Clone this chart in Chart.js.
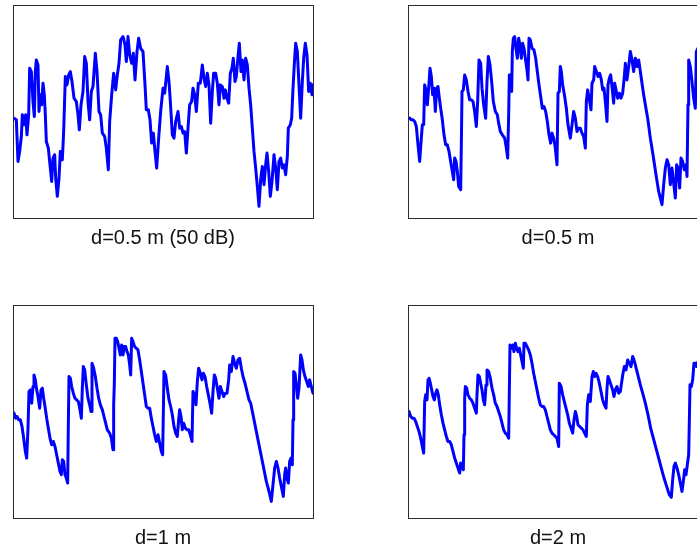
<!DOCTYPE html>
<html>
<head>
<meta charset="utf-8">
<script src="https://cdn.jsdelivr.net/npm/chart.js@4.4.1/dist/chart.umd.min.js"></script>
<style>
  html, body { margin:0; padding:0; background:#fff; width:697px; height:548px; overflow:hidden; position:relative; }
  canvas { position:absolute; }
</style>
</head>
<body>
<canvas id="c1" width="304" height="250" style="left:12px;top:4px"></canvas>
<canvas id="c2" width="304" height="250" style="left:407px;top:4px"></canvas>
<canvas id="c3" width="304" height="250" style="left:12px;top:304px"></canvas>
<canvas id="c4" width="304" height="250" style="left:407px;top:304px"></canvas>
<script>
// Captions of the four panels
const captions = ['d=0.5 m (50 dB)', 'd=0.5 m', 'd=1 m', 'd=2 m'];

// Axis ranges (arbitrary sample index / level units)
const xRange = [0, 90];
const yRange = [0, 64];

// Panel 1: d=0.5 m (50 dB)  [sample, level]
const series1 = [[0.3,30],[1,29.5],[1.5,17],[2,20],[2.5,24.5],[2.8,31],[3.3,28],[3.8,31],[4.2,25],[4.7,31],
[5,45],[5.5,44],[6,35],[6.4,30.5],[6.7,44],[7,47.5],[7.5,46],[7.8,32],[8.2,37],[8.6,34],[9,40.5],[9.4,37],[9.7,31],
[10,23],[10.6,21],[11.1,16],[11.6,11],[12,18],[12.5,19],[12.8,12],[13.3,6.5],[13.8,12],[14.2,20],[14.8,17.5],
[15.2,26],[15.7,42.5],[16.2,40],[16.7,43],[17.2,44],[17.7,41],[18.3,36],[19,35],[19.5,31],[19.9,26.5],[20.4,34],
[21,38],[21.5,48.5],[22,46.5],[22.5,35],[23,29.5],[23.5,38],[24,39.5],[24.7,49.5],[25.2,44],[25.8,32],[26.3,31],
[26.8,25.5],[27.5,24.5],[28,21],[28.6,14.5],[29,29],[29.6,37],[30.2,43.5],[30.8,38.5],[31.3,43],[31.8,46.5],
[32.3,53.5],[33,54.5],[33.6,52],[34,47],[34.5,54.5],[35,49],[35.6,46.5],[36.1,49.5],[36.6,41.5],[37.2,50],
[37.7,54],[38.3,51],[39,50],[39.6,40],[40,32.5],[40.6,32.5],[41.1,29.5],[41.6,22.5],[42.1,25.5],[42.6,20],
[43.1,15],[43.7,24],[44.3,32],[45,39],[45.5,37.5],[46.3,45.5],[46.8,41],[47.2,35],[47.8,25],[48.3,24],[48.8,29],
[49.5,32],[50,27],[50.5,27.5],[51,25.5],[51.5,26],[52,19.5],[52.5,27],[53,34],[53.6,35],[54,39],[54.5,37],
[55,32],[55.6,40.5],[56.2,40.5],[56.8,46],[57.3,42],[57.8,39.5],[58.3,43.5],[58.8,40],[59.3,28.5],[59.8,38],
[60.2,43.5],[60.8,43.5],[61.3,40.5],[61.8,34],[62.2,40],[62.8,39.5],[63.3,36],[63.7,38.5],[64.2,36],[64.7,34.5],
[65.2,43.5],[65.7,45],[66.1,48],[66.6,41],[67,42.5],[67.5,48.5],[67.9,52.5],[68.4,44],[68.8,47.5],[69.3,41.5],
[69.8,48],[70.3,46],[70.8,39],[71.3,34],[71.8,27],[72.3,20],[72.8,15],[73.3,9.5],[73.8,3.5],[74.3,11.5],
[74.8,15.5],[75.3,10],[75.8,16],[76.2,19.5],[76.7,14],[77.2,6.5],[77.7,11],[78.3,19],[78.8,15],[79.3,8.5],
[79.8,17],[80.3,18],[80.8,15],[81.3,16],[81.8,13],[82.3,18.5],[82.6,27],[83.2,28],[83.6,30],[84,39],[84.5,48],
[84.8,52.5],[85.3,50],[85.8,40],[86.3,30],[86.8,41],[87.2,48],[87.7,52.5],[88.2,49],[88.7,38],[89.2,40.5],
[89.7,37],[90,40]];

// Panel 2: d=0.5 m
const series2 = [[0.5,30],[1,29.5],[1.5,29.5],[2,29],[2.5,27.5],[3,22],[3.5,17],[4,24],[4.3,28],[4.7,28],
[5,40],[5.4,38.5],[5.8,34],[6.2,39],[6.6,45],[7,42.5],[7.4,37],[7.8,39],[8.2,32],[8.6,39],[9,39.5],[9.4,36],
[9.8,33],[10.3,29.5],[10.8,25],[11.3,22],[11.8,22],[12.3,20],[12.8,17],[13.3,14],[13.7,11.5],[14,18],[14.4,17],
[14.8,14],[15.2,9.5],[15.8,8.5],[16,22],[16.2,38],[16.6,38.5],[17,43],[17.5,41.5],[18,38],[18.5,35.5],[19,35.5],
[19.5,35],[20,32],[20.5,27.5],[20.9,35],[21.3,47.5],[21.8,46.5],[22.2,39],[22.7,34],[23.3,30],[23.7,41],
[24.1,48.5],[24.6,46],[25.1,41],[25.6,35],[26.2,32],[26.8,31],[27.2,28.5],[27.7,26],[28.3,25],[29,24],[29.5,21],
[29.9,18],[30.2,31],[30.4,43],[30.8,43],[31.1,38],[31.3,50],[31.6,54],[32,54.5],[32.4,51],[32.8,48],[33.2,54],
[33.6,52],[34,48],[34.4,52.5],[34.8,51],[35.2,48],[35.7,44.5],[36,41.5],[36.3,54],[36.7,53.5],[37.2,51],
[37.8,50.5],[38.3,48],[38.8,44],[39.3,40],[39.8,36.5],[40.3,33],[40.8,33.5],[41.3,32],[41.8,29],[42.3,25],
[42.8,22.5],[43.2,25.5],[43.7,24],[44.2,21],[44.7,16],[45,37.5],[45.4,38],[45.7,45.5],[46,44],[46.4,40],
[47,36.5],[47.5,33],[48,28],[48.7,24],[49.2,28],[49.7,32],[50.2,30],[50.7,26],[51.2,27],[51.7,27],[52.2,25.5],
[52.7,24.5],[53.2,21],[53.5,35],[53.9,38.5],[54.4,35.5],[54.9,32.5],[55.2,40.5],[55.7,41.5],[56,45.5],[56.5,44],
[57,42.5],[57.5,43.5],[58,41.5],[58.4,38.5],[58.8,39],[59.2,35],[59.7,29],[60,40],[60.4,42],[60.8,43],[61.2,39.5],
[61.7,34.5],[62,40.5],[62.4,38.5],[62.9,36],[63.4,37.5],[63.9,36],[64.4,37.5],[64.9,42.5],[65.2,46.5],[65.7,41.5],
[66.2,45.5],[66.7,50],[67.2,47.5],[67.7,44],[68.2,48],[68.7,45.5],[69.2,47.5],[69.7,44],[70.2,40.5],[70.7,37],
[71.2,34],[71.9,30],[72.7,24],[73.5,19],[74.4,13],[75.2,8],[76.2,4],[76.7,10],[77.2,15],[77.7,17.5],[78.2,16],
[78.7,10],[79.2,15],[79.7,10.5],[80.2,6],[80.6,16],[81,15],[81.5,9],[81.9,18],[82.4,17],[82.9,14.5],[83.4,16],
[83.7,12.5],[84,34],[84.2,47.5],[84.7,45.5],[85.2,41],[85.7,36],[86.2,33],[86.5,50],[87,51],[87.5,44],[88,38],
[88.5,46],[89,44],[89.5,38],[90,40]];

// Panel 3: d=1 m
const series3 = [[0.3,31.5],[0.8,30],[1.2,30.5],[1.7,29.5],[2.2,29.5],[2.7,27.5],[3.2,24],[3.7,20],[4.1,18],
[4.5,27],[4.8,38],[5.2,38.5],[5.6,34.5],[6,39.5],[6.3,43],[6.7,41.5],[7.1,38.5],[7.5,36.5],[8,33],[8.4,38.5],
[8.8,39],[9.2,36],[9.6,33.5],[10.1,30],[10.6,27],[11.1,24],[11.6,22],[12.1,23],[12.6,21.5],[13.1,19],[13.6,16.5],
[14.1,14],[14.5,13],[14.8,17.5],[15.2,17],[15.6,13],[16,12],[16.4,10.5],[16.6,28],[16.8,42.5],[17.2,42],
[17.6,39.5],[18.1,37.5],[18.6,36],[19.1,35.5],[19.6,35],[20.1,32.5],[20.5,30],[20.8,39],[21.1,45.5],[21.5,44.5],
[22,40],[22.5,36],[23,34],[23.4,32],[23.7,46.5],[24.2,45],[24.7,42.5],[25.2,39],[25.7,36],[26.2,34],[26.8,32.5],
[27.3,30.5],[27.8,28.5],[28.3,26.5],[29,25.5],[29.5,24],[30,20.5],[30.2,34],[30.4,40.5],[30.6,54],[31,54],
[31.4,53],[31.8,51],[32.2,49],[32.6,52],[33,49],[33.4,51.5],[33.8,51.5],[34.2,50],[34.6,49],[35,46],[35.3,43],
[35.6,54],[36,53],[36.5,51.5],[37,51],[37.5,50.5],[38,47.5],[38.5,44],[39,40.5],[39.5,37],[40,33.5],[40.5,33],
[41,33],[41.5,30],[42,27.5],[42.5,25],[43,23],[43.5,25],[44,22.5],[44.5,20],[44.9,19],[45.3,44],[45.8,43],
[46.3,39],[46.8,35.5],[47.3,33.5],[47.8,31],[48.3,27.5],[48.8,25.5],[49.3,24.5],[49.7,29.5],[50,32.5],[50.4,30.5],
[50.8,26.5],[51.2,28.5],[51.7,27],[52.2,26.5],[52.7,26.5],[53.2,25],[53.7,23],[54,38],[54.5,37],[54.9,34],
[55.3,41],[55.7,45],[56.2,43.5],[56.7,41.5],[57.1,43.5],[57.6,42.5],[58.1,39.5],[58.6,37],[59.1,34.5],[59.6,31.5],
[60,38],[60.4,43],[60.8,42],[61.3,39],[61.8,36],[62.2,39.5],[62.7,38],[63.2,36.5],[63.7,37.5],[64.2,37.5],
[64.7,41.5],[65,46],[65.5,44],[66,48.5],[66.5,46.5],[67,45],[67.5,47.5],[68,48],[68.5,45],[69,42.5],[69.6,40.5],
[70.2,38],[70.8,35.5],[71.3,34.5],[72,31],[72.8,27],[73.6,23],[74.4,19],[75.2,15],[76,11],[76.8,8],[77.5,5],
[78,10],[78.5,15],[79,17],[79.5,15],[80,12],[80.5,9.5],[81.1,6.5],[81.5,13],[81.8,15],[82.2,12],[82.6,10.5],
[83,17],[83.4,18],[83.8,16],[84,29.5],[84.2,44],[84.6,43.5],[85,40],[85.4,36],[85.8,39],[86.3,49],[86.7,47.5],
[87.1,44.5],[87.6,42.5],[88.1,41],[88.6,39.5],[89,41.5],[89.5,39.5],[90,37.5]];

// Panel 4: d=2 m
const series4 = [[0.3,32],[0.8,30.5],[1.3,30],[1.8,30],[2.3,29],[2.8,27.5],[3.3,26],[3.8,24],[4.3,21.5],
[4.7,19.5],[5,35],[5.3,37],[5.7,35.5],[6,41.5],[6.3,42],[6.7,40.5],[7.1,38.5],[7.5,36.5],[7.9,35.5],[8.3,37.5],
[8.7,38.5],[9.1,37],[9.5,34],[10,31],[10.5,28.5],[11,26.5],[11.5,24.5],[12,23],[12.5,23],[13,22],[13.5,20],
[14,18],[14.5,16.5],[15,15],[15.5,13.5],[15.8,16.5],[16.2,16],[16.6,14.5],[16.8,25],[17,36],[17.2,39.5],
[17.6,39],[18,37],[18.5,36],[19,35.5],[19.5,34.5],[20,33],[20.5,31.5],[20.7,37],[21,43],[21.4,42.5],[21.8,40.5],
[22.2,38.5],[22.6,35.5],[23,34],[23.4,40],[23.7,44.5],[24.2,44],[24.7,42],[25.2,39],[25.7,37],[26.2,34.5],
[26.7,33.5],[27.2,32],[27.7,30.5],[28.2,28.5],[28.7,26.5],[29.2,25.5],[29.7,25],[30.2,24],[30.4,38],[30.6,52],
[31,51],[31.4,52],[31.8,50],[32.2,52.5],[32.6,51],[33,50],[33.4,51],[33.8,49],[34.2,47],[34.6,45],[34.8,52.5],
[35.2,52.5],[35.7,51.5],[36.2,50.5],[36.7,49],[37.2,46.5],[37.7,43.5],[38.2,41],[38.7,38.5],[39.2,36],[39.7,34],
[40.2,33.5],[40.7,33.5],[41.2,32.5],[41.7,30.5],[42.2,28.5],[42.7,26.5],[43.2,25.5],[43.7,25],[44.2,24.5],
[44.7,24],[45.2,21.5],[45.4,40.5],[45.9,39.5],[46.4,37],[46.9,35],[47.4,33],[47.9,31],[48.4,28.5],[48.9,27],
[49.4,25.5],[49.8,29.5],[50.2,32],[50.6,30.5],[51,28],[51.5,27.5],[52,27],[52.5,26.5],[53,25.5],[53.5,24.5],
[53.8,34],[54.2,37],[54.7,35],[55.2,42.5],[55.6,44],[56,42.5],[56.4,43.5],[56.9,42.5],[57.4,40.5],[57.9,38],
[58.4,35.5],[58.9,34],[59.4,33],[59.7,39],[60,42.5],[60.4,41.5],[60.9,40],[61.4,38.5],[61.8,36.5],[62.2,38.5],
[62.7,39.5],[63.2,37.5],[63.7,38],[64.2,41.5],[64.5,43.5],[64.9,45.5],[65.4,44.5],[65.9,47.5],[66.4,46.5],
[66.9,45.5],[67.4,48.5],[67.8,47.5],[68.2,46],[68.7,44],[69.2,42],[69.7,40],[70.4,37.5],[71.2,34.5],[72,31],
[72.8,27],[73.6,24],[74.4,21],[75.2,18],[76,15],[76.8,12],[77.6,9.5],[78.4,7],[79,6.2],[79.4,11.5],[79.8,15.5],
[80.2,16.5],[80.7,15],[81.2,13],[81.7,10.5],[82.2,8],[82.6,11],[83,14.5],[83.4,13],[83.8,16],[84.2,19],[84.4,29],
[84.6,40],[85,39.5],[85.4,41.5],[85.8,46.5],[86.2,46.5],[86.6,45.5],[87,47],[87.5,44],[88,42.5],[88.5,41],
[89,42],[89.5,40],[90,38]];

const allSeries = [series1, series2, series3, series4];

const framePlugin = {
  id: 'frame',
  afterDatasetsDraw(chart) {
    const a = chart.chartArea, ctx = chart.ctx;
    ctx.save();
    ctx.strokeStyle = '#2b2b2b';
    ctx.lineWidth = 1;
    ctx.strokeRect(Math.round(a.left) + 0.5, Math.round(a.top) + 0.5,
                   Math.round(a.right - a.left), Math.round(a.bottom - a.top));
    ctx.restore();
  }
};

allSeries.forEach((s, i) => {
  new Chart(document.getElementById('c' + (i + 1)), {
    type: 'line',
    data: {
      datasets: [{
        data: s.map(p => ({ x: p[0], y: p[1] })),
        borderColor: '#0000ff',
        borderWidth: 3,
        borderJoinStyle: 'round',
        borderCapStyle: 'round',
        pointRadius: 0,
        tension: 0,
        fill: false
      }]
    },
    options: {
      responsive: false,
      animation: false,
      devicePixelRatio: 1,
      layout: { padding: { left: 1, top: 1, right: 3, bottom: 4 } },
      scales: {
        x: { type: 'linear', min: xRange[0], max: xRange[1], display: false },
        y: { type: 'linear', min: yRange[0], max: yRange[1], display: false }
      },
      plugins: {
        legend: { display: false },
        tooltip: { enabled: false },
        title: {
          display: true,
          position: 'bottom',
          text: captions[i],
          color: '#111',
          font: { family: "'Liberation Sans', Arial, sans-serif", size: 20, weight: 'normal' },
          padding: { top: 8, bottom: 0 }
        }
      }
    },
    plugins: [framePlugin]
  });
});
</script>
</body>
</html>
